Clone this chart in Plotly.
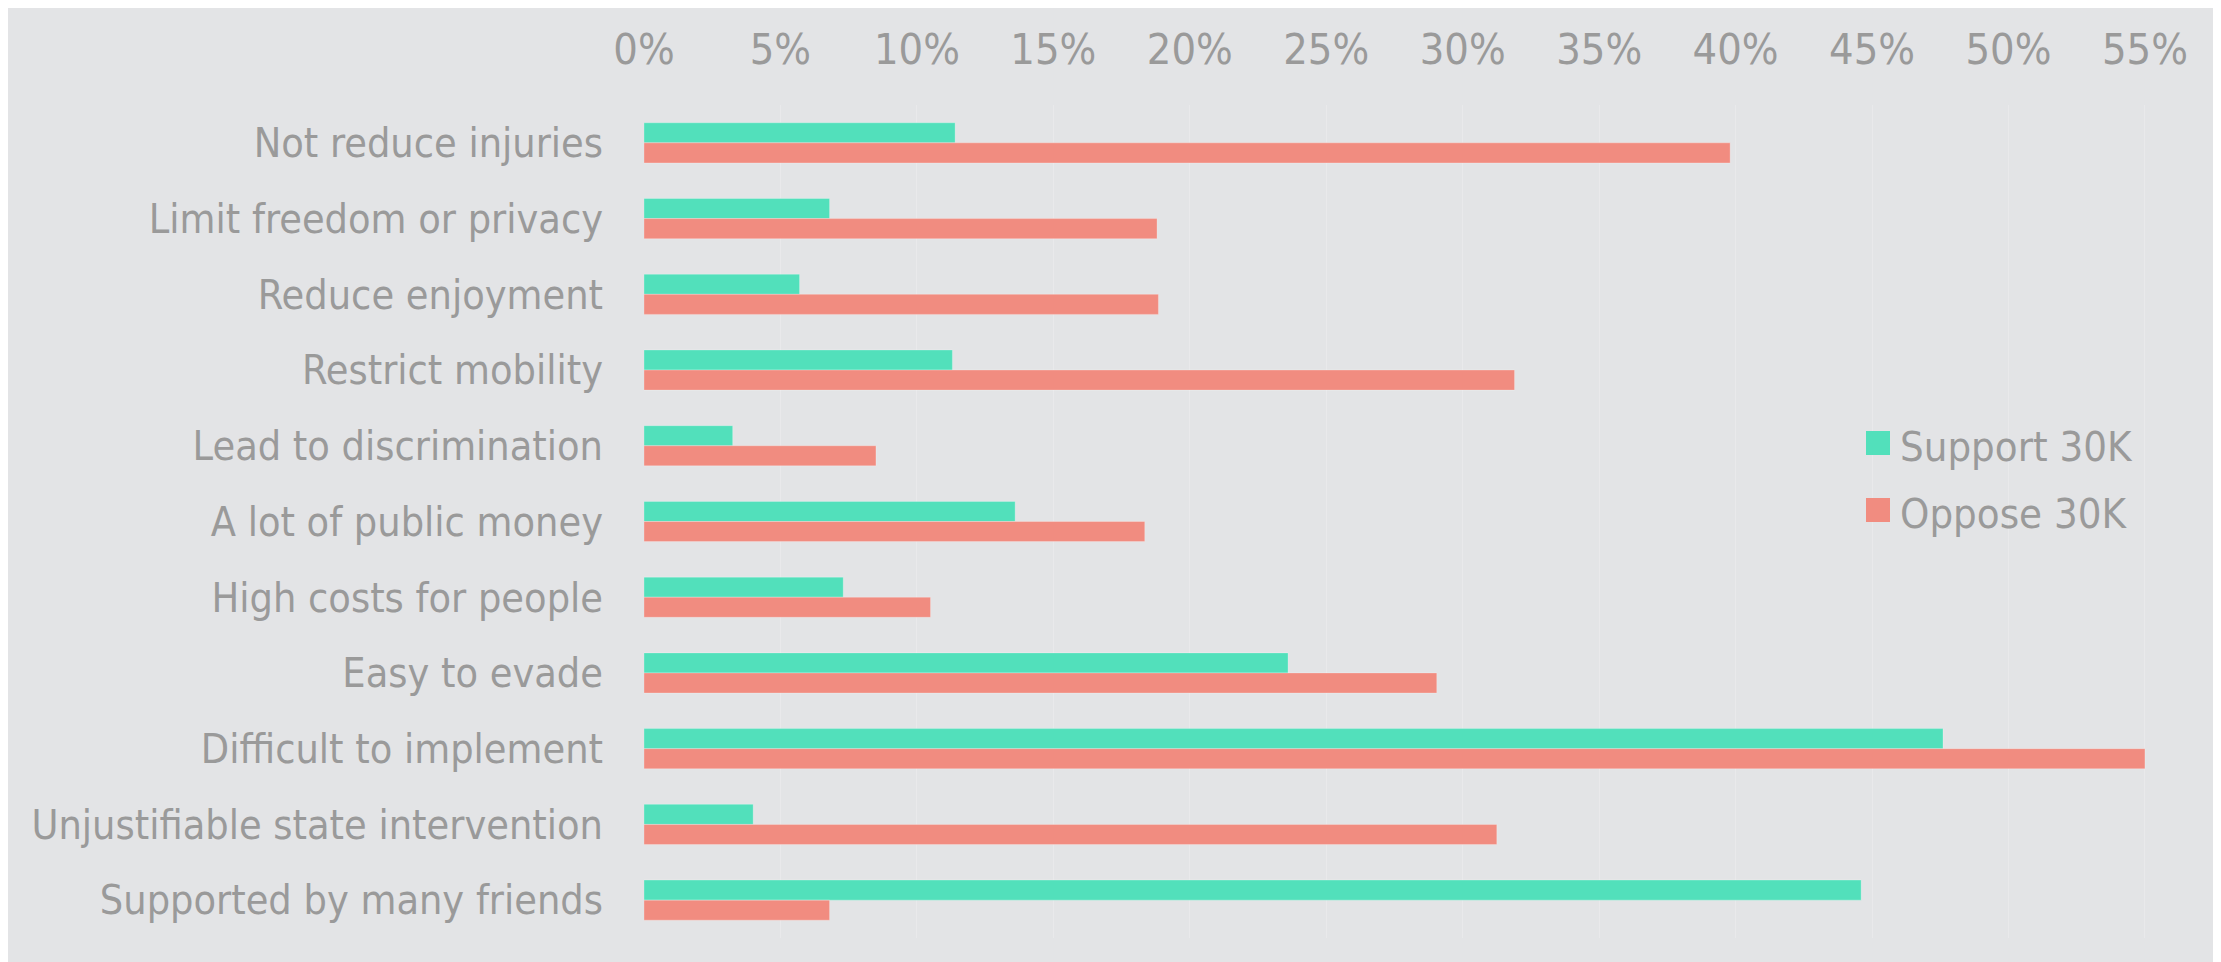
import plotly.graph_objects as go

categories = [
    "Not reduce injuries",
    "Limit freedom or privacy",
    "Reduce enjoyment",
    "Restrict mobility",
    "Lead to discrimination",
    "A lot of public money",
    "High costs for people",
    "Easy to evade",
    "Difficult to implement",
    "Unjustifiable state intervention",
    "Supported by many friends",
]
support_30k = [11.4, 6.8, 5.7, 11.3, 3.25, 13.6, 7.3, 23.6, 47.6, 4.0, 44.6]
oppose_30k = [39.8, 18.8, 18.85, 31.9, 8.5, 18.35, 10.5, 29.05, 55.0, 31.25, 6.8]
series_names = ["Support 30K", "Oppose 30K"]
tick_values = [0, 5, 10, 15, 20, 25, 30, 35, 40, 45, 50, 55]
tick_labels = [f"{v}%" for v in tick_values]

# figure sits at an 8px page offset in the browser
W, H = 2213, 954
L, R, T, B = 636, 2210, 97, 930
BG = "#e3e4e6"
GRID = "#e9e9eb"
TXT = "#9a9a9a"
TEAL = "#52e0bb"
SALMON = "#f18c80"
FONT = "DejaVu Sans Condensed, Liberation Sans Narrow, DejaVu Sans, sans-serif"
PER_PCT = 27.29


def px_x(x):
    return (x - L) / (R - L)


def px_y(y):
    return (B - y) / (B - T)


fig = go.Figure()
fig.add_trace(go.Bar(
    y=categories, x=support_30k, orientation="h", name=series_names[0],
    marker=dict(color=TEAL, line=dict(color="rgba(255,255,255,0.25)", width=1)),
    showlegend=False,
))
fig.add_trace(go.Bar(
    y=categories, x=oppose_30k, orientation="h", name=series_names[1],
    marker=dict(color=SALMON, line=dict(color="rgba(255,255,255,0.25)", width=1)),
    showlegend=False,
))

shapes = [
    dict(type="rect", xref="paper", yref="paper", x0=px_x(2210), x1=px_x(W), y0=px_y(H), y1=px_y(0),
         fillcolor="white", line=dict(width=0), layer="below"),
    dict(type="rect", xref="paper", yref="paper", x0=px_x(2210), x1=px_x(W), y0=px_y(129), y1=px_y(0),
         fillcolor=TEAL, line=dict(width=0), layer="below"),
]

annotations = []
legend_rows = [(series_names[0], TEAL, 435), (series_names[1], SALMON, 502)]
for name, color, cy in legend_rows:
    shapes.append(dict(type="rect", xref="paper", yref="paper",
                       x0=px_x(1858), x1=px_x(1882), y0=px_y(cy + 12), y1=px_y(cy - 12),
                       fillcolor=color, line=dict(width=0)))
    annotations.append(dict(xref="paper", yref="paper", x=px_x(1890), y=px_y(cy + 3),
                            xanchor="left", yanchor="middle", text=name, showarrow=False,
                            font=dict(family=FONT, size=41.5, color=TXT)))

fig.update_layout(
    width=W, height=H,
    margin=dict(l=L, r=W - R, t=T, b=H - B, pad=0),
    paper_bgcolor=BG, plot_bgcolor=BG,
    barmode="group", bargap=0.47, bargroupgap=0,
    font=dict(family=FONT, color=TXT),
    shapes=shapes, annotations=annotations,
    showlegend=False,
)
fig.update_xaxes(
    side="top", range=[0, (R - L) / PER_PCT], tickvals=tick_values, ticktext=tick_labels,
    showgrid=True, gridcolor=GRID, gridwidth=1, zeroline=False, showline=False,
    ticks="", ticklabelstandoff=31, tickfont=dict(family=FONT, size=43, color=TXT),
)
fig.update_yaxes(
    autorange="reversed", showgrid=False, zeroline=False, showline=False,
    ticks="", ticklabelstandoff=40, tickfont=dict(family=FONT, size=41, color=TXT),
)

fig.write_html("out.html")
